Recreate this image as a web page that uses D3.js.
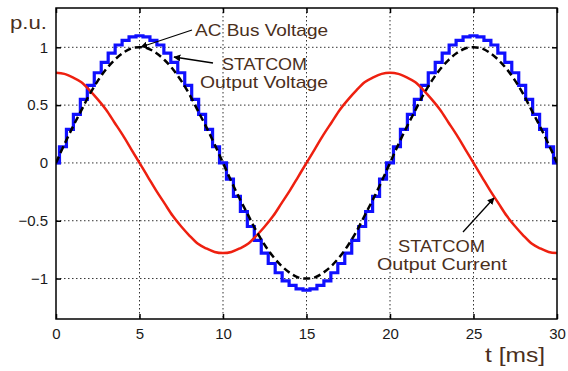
<!DOCTYPE html>
<html>
<head>
<meta charset="utf-8">
<script src="https://cdn.jsdelivr.net/npm/d3@7"></script>
<style>
  body { margin: 0; background: #fff; }
  svg { display: block; font-family: "Liberation Sans", Arial, sans-serif; }
</style>
</head>
<body>
<svg id="chart" width="568" height="371"></svg>
<script>
// x ticks (ms) and y ticks (p.u.)
const xTicks = [0, 5, 10, 15, 20, 25, 30];
const yTicks = [-1, -0.5, 0, 0.5, 1];

// smooth curves, read every 0.5 ms
const busVoltage = [
  0, 0.16, 0.31, 0.45, 0.59, 0.71, 0.81, 0.89, 0.95, 0.99, 1,
  0.99, 0.95, 0.89, 0.81, 0.71, 0.59, 0.45, 0.31, 0.16, 0,
  -0.16, -0.31, -0.45, -0.59, -0.71, -0.81, -0.89, -0.95, -0.99, -1,
  -0.99, -0.95, -0.89, -0.81, -0.71, -0.59, -0.45, -0.31, -0.16, 0,
  0.16, 0.31, 0.45, 0.59, 0.71, 0.81, 0.89, 0.95, 0.99, 1,
  0.99, 0.95, 0.89, 0.81, 0.71, 0.59, 0.45, 0.31, 0.16, 0
];
const outputCurrent = [
  0.78, 0.77, 0.74, 0.70, 0.63, 0.55, 0.46, 0.35, 0.24, 0.12, 0,
  -0.12, -0.24, -0.35, -0.46, -0.55, -0.63, -0.70, -0.74, -0.77, -0.78,
  -0.77, -0.74, -0.70, -0.63, -0.55, -0.46, -0.35, -0.24, -0.12, 0,
  0.12, 0.24, 0.35, 0.46, 0.55, 0.63, 0.70, 0.74, 0.77, 0.78,
  0.77, 0.74, 0.70, 0.63, 0.55, 0.46, 0.35, 0.24, 0.12, 0,
  -0.12, -0.24, -0.35, -0.46, -0.55, -0.63, -0.70, -0.74, -0.77, -0.78
];
// staircase output voltage, one level per step (72 steps over 30 ms)
const outputVoltage = [
  0, 0.14, 0.29, 0.42, 0.55, 0.67, 0.78, 0.87, 0.95, 1.02, 1.06, 1.09, 1.10,
  1.09, 1.06, 1.02, 0.95, 0.87, 0.78, 0.67, 0.55, 0.42, 0.29, 0.14, 0,
  -0.14, -0.29, -0.42, -0.55, -0.67, -0.78, -0.87, -0.95, -1.02, -1.06, -1.09, -1.10,
  -1.09, -1.06, -1.02, -0.95, -0.87, -0.78, -0.67, -0.55, -0.42, -0.29, -0.14, 0,
  0.14, 0.29, 0.42, 0.55, 0.67, 0.78, 0.87, 0.95, 1.02, 1.06, 1.09, 1.10,
  1.09, 1.06, 1.02, 0.95, 0.87, 0.78, 0.67, 0.55, 0.42, 0.29, 0.14, 0
];

const margin = { top: 8, right: 11, bottom: 52, left: 56 };
const width = 568 - margin.left - margin.right;
const height = 371 - margin.top - margin.bottom;
const labelColor = '#4a2f1c';

const svg = d3.select('#chart')
  .append('g')
  .attr('transform', 'translate(' + margin.left + ',' + margin.top + ')');

const x = d3.scaleLinear().domain([0, 30]).range([0, width]);
const y = d3.scaleLinear().domain([-1.35, 1.34]).range([height, 0]);

// grid
svg.append('g').selectAll('line')
  .data(xTicks.slice(1, -1))
  .enter().append('line')
  .attr('x1', d => x(d)).attr('x2', d => x(d))
  .attr('y1', 0).attr('y2', height)
  .attr('stroke', '#333').attr('stroke-width', 1)
  .attr('stroke-dasharray', '1.5,2.5');

svg.append('g').selectAll('line')
  .data(yTicks)
  .enter().append('line')
  .attr('x1', 0).attr('x2', width)
  .attr('y1', d => y(d)).attr('y2', d => y(d))
  .attr('stroke', '#333').attr('stroke-width', 1)
  .attr('stroke-dasharray', '1.5,2.5');

// inward ticks on all four sides
const tickStyle = g => {
  g.select('.domain').remove();
  g.selectAll('.tick line').attr('stroke', '#000').attr('stroke-width', 1.5);
  g.selectAll('.tick text').attr('fill', '#1a1a1a').style('font-size', '15px')
    .style('font-family', '"Liberation Sans", Arial, sans-serif');
};

svg.append('g')
  .attr('transform', 'translate(0,' + height + ')')
  .call(d3.axisBottom(x).tickValues(xTicks).tickSize(-5).tickPadding(9))
  .call(tickStyle);
svg.append('g')
  .call(d3.axisTop(x).tickValues(xTicks).tickSize(-5).tickFormat(''))
  .call(tickStyle);
svg.append('g')
  .call(d3.axisLeft(y).tickValues(yTicks).tickSize(-5).tickPadding(8).tickFormat(d3.format('')))
  .call(tickStyle);
svg.append('g')
  .attr('transform', 'translate(' + width + ',0)')
  .call(d3.axisRight(y).tickValues(yTicks).tickSize(-5).tickFormat(''))
  .call(tickStyle);

// curves
svg.append('clipPath').attr('id', 'plot-clip')
  .append('rect').attr('width', width).attr('height', height);

const plot = svg.append('g').attr('clip-path', 'url(#plot-clip)');

const stepDt = 30 / (outputVoltage.length - 1);
const smoothDt = 30 / (busVoltage.length - 1);

plot.append('path')
  .datum(outputVoltage)
  .attr('fill', 'none')
  .attr('stroke', '#1010ff')
  .attr('stroke-width', 3.2)
  .attr('d', d3.line().curve(d3.curveStep).x((d, i) => x(i * stepDt)).y(d => y(d)));

plot.append('path')
  .datum(outputCurrent)
  .attr('fill', 'none')
  .attr('stroke', '#ee2010')
  .attr('stroke-width', 2.5)
  .attr('d', d3.line().curve(d3.curveCardinal).x((d, i) => x(i * smoothDt)).y(d => y(d)));

plot.append('path')
  .datum(busVoltage)
  .attr('fill', 'none')
  .attr('stroke', '#000')
  .attr('stroke-width', 2.5)
  .attr('stroke-dasharray', '7,4')
  .attr('d', d3.line().curve(d3.curveCardinal).x((d, i) => x(i * smoothDt)).y(d => y(d)));

// frame
svg.append('rect')
  .attr('width', width).attr('height', height)
  .attr('fill', 'none').attr('stroke', '#000').attr('stroke-width', 1.5);

// axis labels (the source lettering is a bit stretched, so fix the widths)
const root = d3.select('#chart');
root.append('text')
  .attr('x', 10).attr('y', 29)
  .attr('fill', labelColor)
  .style('font-size', '18px')
  .attr('textLength', 37).attr('lengthAdjust', 'spacingAndGlyphs')
  .text('p.u.');
root.append('text')
  .attr('x', 485).attr('y', 362)
  .attr('fill', labelColor)
  .style('font-size', '20px')
  .attr('textLength', 60).attr('lengthAdjust', 'spacingAndGlyphs')
  .text('t [ms]');

// annotations
const defs = root.append('defs');
defs.append('marker')
  .attr('id', 'arrow')
  .attr('viewBox', '0 0 10 10')
  .attr('refX', 9).attr('refY', 5)
  .attr('markerWidth', 7).attr('markerHeight', 7)
  .attr('markerUnits', 'userSpaceOnUse')
  .attr('orient', 'auto')
  .append('path').attr('d', 'M0,0 L10,5 L0,10 z').attr('fill', '#000');

const notes = [
  { lines: [['AC Bus Voltage', 195, 133]], ty: 36, from: [192, 30], to: [141, 47] },
  { lines: [['STATCOM', 222, 85], ['Output Voltage', 200, 128]], ty: 70, from: [213, 63], to: [174, 57] },
  { lines: [['STATCOM', 398, 87], ['Output Current', 377, 130]], ty: 252, from: [463, 232], to: [494, 198] }
];

notes.forEach(n => {
  n.lines.forEach(([s, tx, len], i) => {
    root.append('text')
      .attr('x', tx).attr('y', n.ty + i * 18)
      .attr('fill', labelColor)
      .style('font-size', '17px')
      .attr('textLength', len).attr('lengthAdjust', 'spacingAndGlyphs')
      .text(s);
  });
  root.append('line')
    .attr('x1', n.from[0]).attr('y1', n.from[1])
    .attr('x2', n.to[0]).attr('y2', n.to[1])
    .attr('stroke', '#000').attr('stroke-width', 1.3)
    .attr('marker-end', 'url(#arrow)');
});
</script>
</body>
</html>
